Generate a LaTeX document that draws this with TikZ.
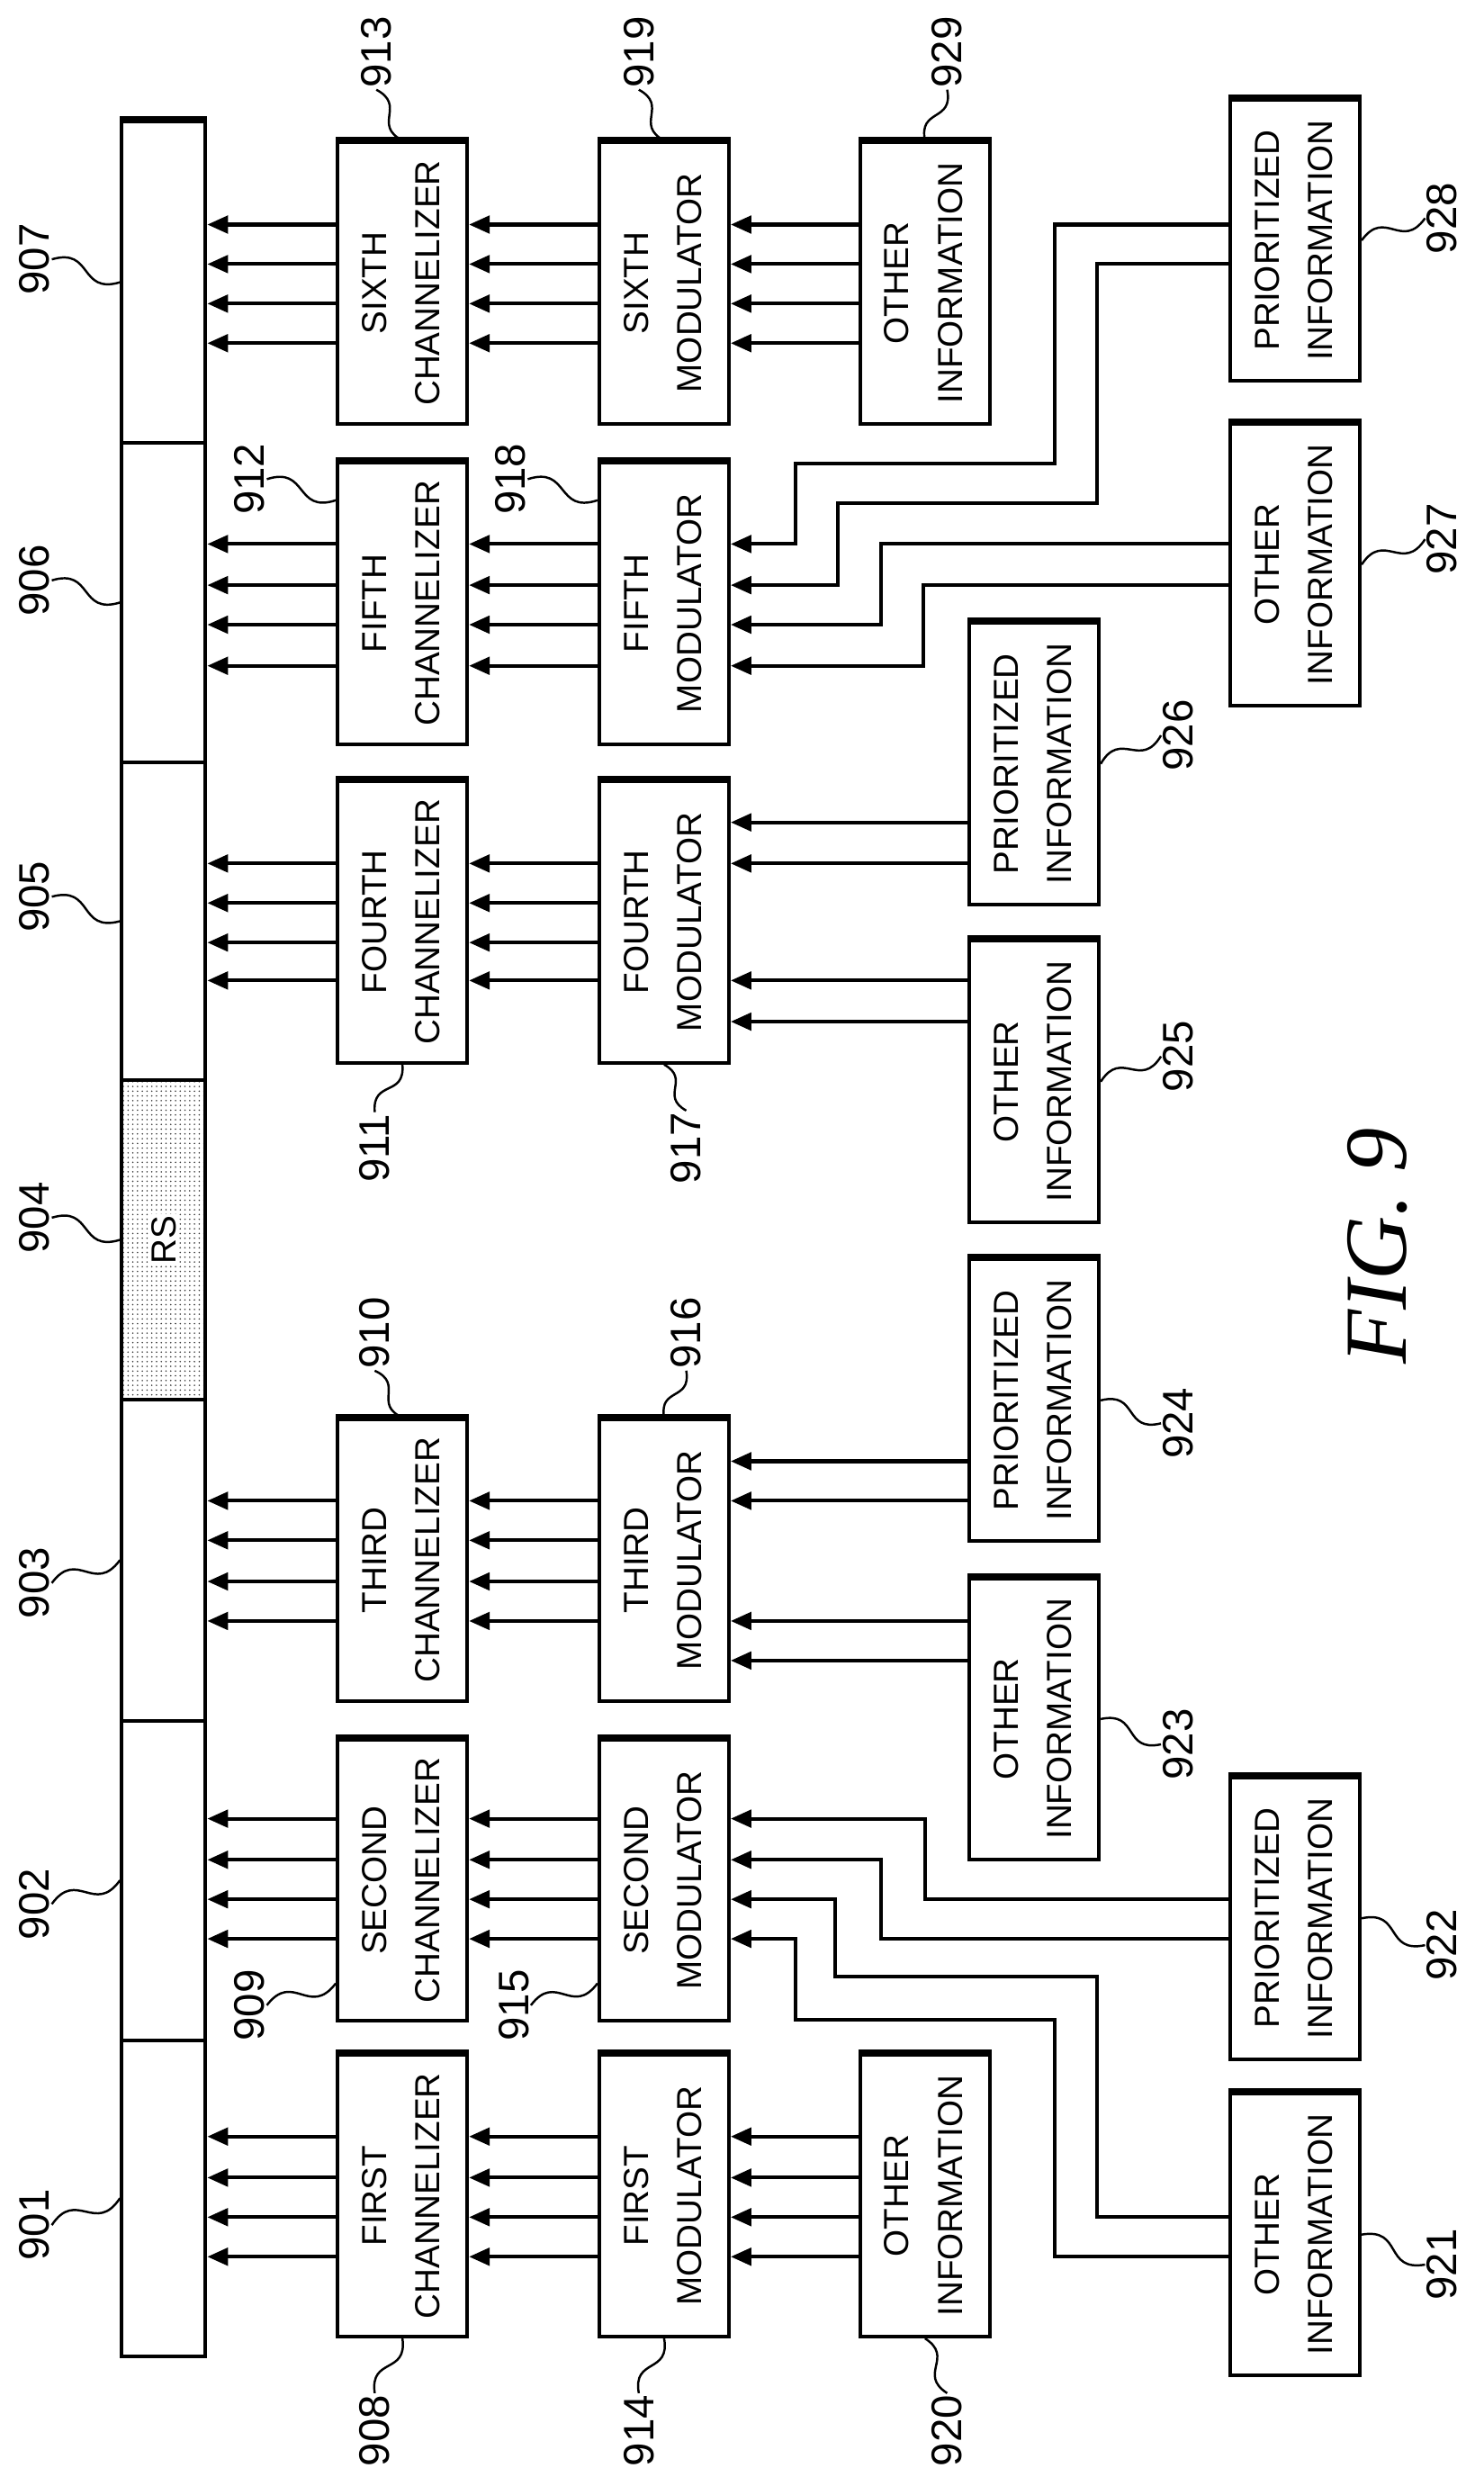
\documentclass[tikz,border=0pt]{standalone}
\usepackage{fontspec}
\setmainfont{Liberation Sans}
\newfontfamily\figfont{Liberation Serif}
\usetikzlibrary{arrows.meta,calc,patterns}
\newcommand\boxfont{\fontsize{22}{34}\selectfont}
\newcommand\labfont{\fontsize{27}{30}\selectfont}
\newcommand\two[2]{\rotatebox{90}{\begin{tabular}{@{}c@{}}#1\\#2\end{tabular}}}
\begin{document}
\begin{tikzpicture}[x=1pt,y=-1pt,
 box/.style={draw, line width=2.3pt, minimum width=82pt, minimum height=178pt, inner sep=0pt, font=\boxfont},
 seg/.style={draw, line width=2.3pt, minimum width=53pt, inner sep=0pt},
 arr/.style={line width=2.3pt, -{Triangle[length=13pt,width=11pt]}},
 lab/.style={rotate=90, font=\labfont, inner sep=1pt},
 ldr/.style={line width=1.4pt}]
\useasboundingbox (0,0) rectangle (938,1572);
% bar
\node[seg, minimum height=203pt] (seg7) at (103.5,178.5) {};
\node[seg, minimum height=202pt] (seg6) at (103.5,381) {};
\node[seg, minimum height=201pt] (seg5) at (103.5,582.5) {};
\node[seg, minimum height=202pt, pattern=dots, pattern color=black!80] (seg4) at (103.5,784) {};
\node[rotate=90, font=\boxfont, fill=white, inner sep=1pt] (rs) at (seg4) {RS};
\node[seg, minimum height=203pt] (seg3) at (103.5,986.5) {};
\node[seg, minimum height=202pt] (seg2) at (103.5,1189) {};
\node[seg, minimum height=200pt] (seg1) at (103.5,1390) {};
\draw[line width=4.5pt] (seg7.north west) -- (seg7.north east);
% channelizers
\node[box] (ch6) at (254.5,179) {\two{SIXTH}{CHANNELIZER}};
\node[box] (ch5) at (254.5,381.5) {\two{FIFTH}{CHANNELIZER}};
\node[box] (ch4) at (254.5,583) {\two{FOURTH}{CHANNELIZER}};
\node[box] (ch3) at (254.5,986.5) {\two{THIRD}{CHANNELIZER}};
\node[box] (ch2) at (254.5,1189) {\two{SECOND}{CHANNELIZER}};
\node[box] (ch1) at (254.5,1388.5) {\two{FIRST}{CHANNELIZER}};
% modulators
\node[box] (m6) at (420,179) {\two{SIXTH}{MODULATOR}};
\node[box] (m5) at (420,381.5) {\two{FIFTH}{MODULATOR}};
\node[box] (m4) at (420,583) {\two{FOURTH}{MODULATOR}};
\node[box] (m3) at (420,986.5) {\two{THIRD}{MODULATOR}};
\node[box] (m2) at (420,1189) {\two{SECOND}{MODULATOR}};
\node[box] (m1) at (420,1388.5) {\two{FIRST}{MODULATOR}};
% information
\node[box] (i929) at (585,179) {\two{OTHER}{INFORMATION}};
\node[box] (i920) at (585,1388.5) {\two{OTHER}{INFORMATION}};
\node[box] (i928) at (819,152) {\two{PRIORITIZED}{INFORMATION}};
\node[box] (i927) at (819,357) {\two{OTHER}{INFORMATION}};
\node[box] (i926) at (654,483) {\two{PRIORITIZED}{INFORMATION}};
\node[box] (i925) at (654,684) {\two{OTHER}{INFORMATION}};
\node[box] (i924) at (654,885.5) {\two{PRIORITIZED}{INFORMATION}};
\node[box] (i923) at (654,1087) {\two{OTHER}{INFORMATION}};
\node[box] (i922) at (819,1213) {\two{PRIORITIZED}{INFORMATION}};
\node[box] (i921) at (819,1413) {\two{OTHER}{INFORMATION}};
\foreach \n in {ch1,ch2,ch3,ch4,ch5,ch6,m1,m2,m3,m4,m5,m6,i920,i921,i922,i923,i924,i925,i926,i927,i928,i929}
  \draw[line width=4.5pt] (\n.north west) -- (\n.north east);
% rows
\foreach \y in {142,167,192,217,293,318,344,370,395,421,520,546,571,596,620,646,924,949,974,1000,1025,1050,1150,1176,1201,1226,1250,1277,1351,1377,1402,1427}
  \coordinate (r\y) at (0,\y);
% channelizer -> bar, modulator -> channelizer
\foreach \c/\m/\s/\a/\b/\cc/\d in {ch6/m6/seg7/142/167/192/217, ch5/m5/seg6/344/370/395/421, ch4/m4/seg5/546/571/596/620, ch3/m3/seg3/949/974/1000/1025, ch2/m2/seg2/1150/1176/1201/1226, ch1/m1/seg1/1351/1377/1402/1427}{
  \foreach \y in {\a,\b,\cc,\d}{
    \draw[arr] (\c.west|-r\y) -- (\s.east|-r\y);
    \draw[arr] (\m.west|-r\y) -- (\c.east|-r\y);
  }}
\foreach \y in {142,167,192,217} \draw[arr] (i929.west|-r\y) -- (m6.east|-r\y);
\foreach \y in {1351,1377,1402,1427} \draw[arr] (i920.west|-r\y) -- (m1.east|-r\y);
\foreach \y in {520,546} \draw[arr] (i926.west|-r\y) -- (m4.east|-r\y);
\foreach \y in {620,646} \draw[arr] (i925.west|-r\y) -- (m4.east|-r\y);
\foreach \y in {924,949} \draw[arr] (i924.west|-r\y) -- (m3.east|-r\y);
\foreach \y in {1025,1050} \draw[arr] (i923.west|-r\y) -- (m3.east|-r\y);
% routed
\draw[arr] (i928.west|-r142) -- (667,142) -- (667,293) -- (503,293) -- (503,344) -- (m5.east|-r344);
\draw[arr] (i928.west|-r167) -- (694,167) -- (694,318) -- (530,318) -- (530,370) -- (m5.east|-r370);
\draw[arr] (i927.west|-r344) -- (557,344) -- (557,395) -- (m5.east|-r395);
\draw[arr] (i927.west|-r370) -- (584,370) -- (584,421) -- (m5.east|-r421);
\draw[arr] (i922.west|-r1201) -- (585,1201) -- (585,1150) -- (m2.east|-r1150);
\draw[arr] (i922.west|-r1226) -- (557,1226) -- (557,1176) -- (m2.east|-r1176);
\draw[arr] (i921.west|-r1402) -- (694,1402) -- (694,1250) -- (528,1250) -- (528,1201) -- (m2.east|-r1201);
\draw[arr] (i921.west|-r1427) -- (667,1427) -- (667,1277) -- (503,1277) -- (503,1226) -- (m2.east|-r1226);
% labels
\foreach \t/\x/\y in {913/238/33, 919/404/33, 929/599/33, 911/237/726, 917/434/726, 910/237/843, 916/434/843, 908/237/1537, 914/404/1537, 920/599/1537, 907/22/164, 906/22/367, 905/22/567, 904/22/770, 903/22/1001, 902/22/1204, 901/22/1407, 912/158/303, 918/323/303, 909/158/1268, 915/325/1268, 928/912/138, 927/912/341, 926/745/465, 925/745/668, 924/745/900, 923/745/1103, 922/912/1230, 921/912/1432}
  \node[lab] (l\t) at (\x,\y) {\t};
\newcommand\ldr[2]{\draw[ldr] (#1) .. controls ($(#1)!0.6!35:(#2)$) and ($(#2)!0.6!35:(#1)$) .. (#2);}
\ldr{l913.west}{ch6.north} \ldr{l919.west}{m6.north} \ldr{l929.west}{i929.north}
\ldr{l910.west}{ch3.north} \ldr{l916.west}{m3.north}
\ldr{l911.east}{ch4.south} \ldr{l917.east}{m4.south}
\ldr{l908.east}{ch1.south} \ldr{l914.east}{m1.south} \ldr{l920.east}{i920.south}
\ldr{l907.south}{seg7.west} \ldr{l906.south}{seg6.west} \ldr{l905.south}{seg5.west} \ldr{l904.south}{seg4.west}
\ldr{l903.south}{seg3.west} \ldr{l902.south}{seg2.west} \ldr{l901.south}{seg1.west}
\ldr{l912.south}{$(ch5.north west)+(0,25)$} \ldr{l918.south}{$(m5.north west)+(0,25)$}
\ldr{l909.south}{$(ch2.south west)+(0,-25)$} \ldr{l915.south}{$(m2.south west)+(0,-25)$}
\ldr{l928.north}{i928.east} \ldr{l927.north}{i927.east} \ldr{l926.north}{i926.east} \ldr{l925.north}{i925.east}
\ldr{l924.north}{i924.east} \ldr{l923.north}{i923.east} \ldr{l922.north}{i922.east} \ldr{l921.north}{i921.east}
\node[rotate=90, font=\figfont\itshape\fontsize{56}{60}\selectfont] (fig) at (871,788) {FIG. 9};
\end{tikzpicture}
\end{document}
